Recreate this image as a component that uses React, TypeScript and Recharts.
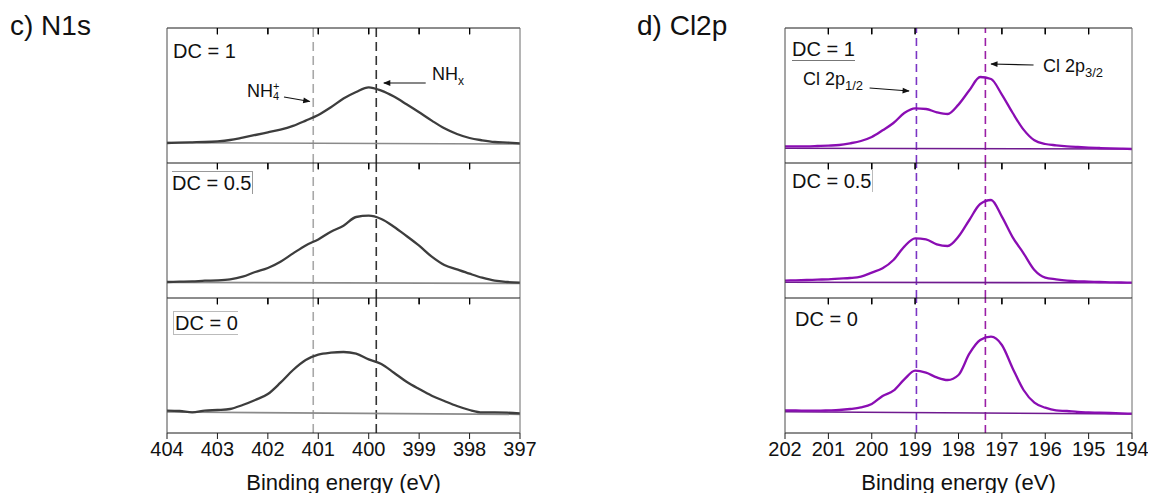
import React from "react";
import { LineChart, Line, XAxis, YAxis, ReferenceLine } from "recharts";

// N1s spectra (binding energy in eV, intensity in a.u.)
const n1sEnergy = [
  404, 403.75, 403.5, 403.25, 403, 402.75, 402.5, 402.25, 402, 401.75, 401.5, 401.25, 401, 400.75, 400.5,
  400.25, 400, 399.75, 399.5, 399.25, 399, 398.75, 398.5, 398.25, 398, 397.75, 397.5, 397.25, 397,
];
const n1sDc1 = [
  20.0, 20.4, 20.7, 21.0, 21.7, 23.0, 25.4, 28.0, 30.7, 33.4, 37.2, 42.4, 48.0, 55.7, 64.4, 71.0, 75.7, 72.4,
  66.4, 58.7, 50.7, 42.4, 34.7, 29.0, 25.0, 22.7, 21.0, 20.4, 19.7,
];
const n1sDc05 = [
  16.0, 16.3, 16.6, 17.3, 17.6, 18.6, 21.3, 26.0, 30.0, 36.3, 44.6, 52.6, 58.6, 66.3, 72.3, 81.0, 82.3, 79.0,
  71.3, 62.0, 52.3, 41.3, 33.0, 28.6, 24.3, 20.3, 17.3, 16.0, 15.3,
];
const n1sDc0 = [
  22.3, 22.0, 20.6, 22.3, 23.0, 24.0, 28.0, 33.0, 39.0, 50.3, 63.0, 73.0, 78.3, 80.3, 81.0, 79.3, 73.6, 69.0,
  60.3, 51.3, 44.0, 37.3, 32.0, 27.0, 23.0, 20.6, 20.6, 20.3, 19.6,
];
const n1sBgEnergy = [404, 397];
const n1sBg1 = [20.4, 19.0];
const n1sBg05 = [15.6, 14.6];
const n1sBg0 = [21.0, 18.6];
const n1sTicks = [404, 403, 402, 401, 400, 399, 398, 397];
const n1sPeaks = [401.1, 399.85];

// Cl2p spectra
const cl2pEnergy = [
  202, 201.75, 201.5, 201.25, 201, 200.75, 200.5, 200.25, 200, 199.75, 199.5, 199.25, 199, 198.75, 198.5,
  198.25, 198, 197.75, 197.5, 197.25, 197, 196.75, 196.5, 196.25, 196, 195.75, 195.5, 195.25, 195, 194.75,
  194.5, 194.25, 194,
];
const cl2pDc1 = [
  16.7, 16.7, 16.7, 17.0, 17.4, 18.0, 19.7, 22.0, 26.0, 32.7, 40.0, 50.0, 54.7, 54.0, 50.7, 49.0, 58.4, 72.7,
  86.0, 84.0, 68.4, 50.0, 33.4, 22.7, 19.0, 17.7, 16.7, 16.0, 15.4, 15.0, 14.7, 14.4, 14.0,
];
const cl2pDc05 = [
  17.4, 17.7, 18.0, 18.4, 18.7, 19.4, 20.0, 21.4, 25.4, 29.7, 38.0, 51.4, 59.7, 58.7, 53.7, 52.0, 61.4, 78.0,
  94.0, 98.0, 81.4, 60.7, 44.7, 28.0, 20.4, 18.7, 17.4, 16.7, 16.4, 16.0, 15.7, 15.5, 15.4,
];
const cl2pDc0 = [
  22.6, 22.6, 22.3, 22.3, 22.6, 23.0, 24.0, 25.6, 29.0, 37.0, 42.3, 53.6, 62.3, 60.3, 55.6, 53.0, 58.0, 79.3,
  93.0, 96.3, 88.0, 64.6, 43.0, 30.3, 25.3, 22.6, 22.0, 21.0, 20.6, 20.3, 20.0, 19.6, 19.3,
];
const cl2pBgEnergy = [202, 194];
const cl2pBg1 = [14.7, 14.0];
const cl2pBg05 = [15.7, 15.2];
const cl2pBg0 = [21.3, 19.0];
const cl2pTicks = [202, 201, 200, 199, 198, 197, 196, 195, 194];
const cl2pPeaks = [198.97, 197.38];

const dcLabels = ["DC = 1", "DC = 0.5", "DC = 0"];
const yDomain = [0, 135];

const FONT = "'Liberation Sans', Arial, Helvetica, sans-serif";
const PANEL_H = 135;
const PANEL_TOPS = [28, 163, 298];

type Seg = { x1: number; y1: number; x2: number; y2: number };

type PanelProps = {
  id: string;
  energy: number[];
  values: number[];
  bgEnergy: number[];
  bg: number[];
  ticks: number[];
  peaks: number[];
  peakColors: string[];
  dash: string;
  lineColor: string;
  bgColor: string;
  bottom: boolean;
  left: number;
  plotWidth: number;
  top: number;
  marginRight: number;
  arrows?: Seg[];
};

// top-edge tick drawn as a short stroke pointing into the panel
const TopTick = (props: any) => (
  <line x1={props.x} x2={props.x} y1={props.y} y2={props.y + 6} stroke="#000" strokeWidth={1.2} />
);

// one stacked spectrum panel; axes of size 1 are used as the frame
function Panel(p: PanelProps) {
  const rows = p.energy.map((e, i) => ({ e, s: p.values[i] }));
  const bgRows = p.bgEnergy.map((e, i) => ({ e, b: p.bg[i] }));
  const domain = [Math.min(...p.ticks), Math.max(...p.ticks)];
  const innerTicks = p.ticks.slice(1, -1);
  const mTop = 2;
  const mBottom = p.bottom ? 0 : 2;
  const axisH = p.bottom ? 60 : 1;
  const height = mTop + 1 + PANEL_H + axisH + mBottom;
  const width = 19 + 1 + p.plotWidth + 1 + p.marginRight;

  return (
    <div style={{ position: "absolute", left: p.left - 20, top: p.top - mTop - 1 }}>
      <LineChart
        width={width}
        height={height}
        data={rows}
        margin={{ top: mTop, right: p.marginRight, bottom: mBottom, left: 19 }}
      >
        <defs>
          <marker id={`arr-${p.id}`} viewBox="0 0 10 10" refX="9" refY="5" markerWidth="7" markerHeight="6" orient="auto">
            <path d="M0,1 L10,5 L0,9 z" fill="#111" />
          </marker>
        </defs>
        <XAxis
          xAxisId="b"
          dataKey="e"
          type="number"
          domain={domain}
          allowDataOverflow
          reversed
          ticks={p.ticks}
          interval={0}
          height={axisH}
          stroke="#1a1a1a"
          axisLine={p.bottom}
          tick={p.bottom ? { fill: "#111", fontSize: 20 } : false}
          tickLine={p.bottom}
          tickSize={6}
          tickMargin={3}
          label={
            p.bottom
              ? { value: "Binding energy (eV)", position: "insideBottom", offset: 3, fill: "#111", fontSize: 22 }
              : undefined
          }
        />
        <XAxis
          xAxisId="t"
          dataKey="e"
          type="number"
          orientation="top"
          domain={domain}
          allowDataOverflow
          reversed
          ticks={innerTicks}
          interval={0}
          height={1}
          stroke="#1a1a1a"
          tick={TopTick}
          tickLine={false}
          tickSize={0}
          tickMargin={0}
        />
        <YAxis yAxisId="l" domain={yDomain} allowDataOverflow tick={false} tickLine={false} width={1} stroke="#4a4a4a" />
        <YAxis
          yAxisId="r"
          orientation="right"
          domain={yDomain}
          allowDataOverflow
          tick={false}
          tickLine={false}
          width={1}
          stroke="#6a6a6a"
        />
        {innerTicks.map((t) => (
          <ReferenceLine
            key={`tk${t}`}
            xAxisId="b"
            yAxisId="l"
            ifOverflow="visible"
            segment={[
              { x: t, y: 135 },
              { x: t, y: 128.5 },
            ]}
            stroke="#000"
            strokeWidth={1.2}
          />
        ))}
        {p.peaks.map((x, i) => (
          <ReferenceLine
            key={x}
            x={x}
            xAxisId="b"
            yAxisId="l"
            stroke={p.peakColors[i]}
            strokeWidth={1.6}
            strokeDasharray={p.dash}
          />
        ))}
        <Line
          data={bgRows}
          xAxisId="b"
          yAxisId="l"
          dataKey="b"
          stroke={p.bgColor}
          strokeWidth={1.6}
          dot={false}
          isAnimationActive={false}
        />
        <Line
          xAxisId="b"
          yAxisId="l"
          dataKey="s"
          type="monotone"
          stroke={p.lineColor}
          strokeWidth={2.3}
          strokeLinejoin="round"
          dot={false}
          isAnimationActive={false}
        />
        {(p.arrows || []).map((a, i) => (
          <ReferenceLine
            key={i}
            xAxisId="b"
            yAxisId="l"
            segment={[
              { x: a.x1, y: a.y1 },
              { x: a.x2, y: a.y2 },
            ]}
            stroke="#111"
            strokeWidth={1.2}
            markerEnd={`url(#arr-${p.id})`}
          />
        ))}
      </LineChart>
    </div>
  );
}

const labelStyle = (left: number, top: number, extra: React.CSSProperties = {}): React.CSSProperties => ({
  position: "absolute",
  left,
  top,
  fontSize: 18,
  lineHeight: "20px",
  color: "#111",
  whiteSpace: "nowrap",
  ...extra,
});

const dcStyle = (left: number, top: number, extra: React.CSSProperties = {}) =>
  labelStyle(left, top, { fontSize: 20, lineHeight: "22px", ...extra });

export default function App() {
  const n1sSets = [
    { values: n1sDc1, bg: n1sBg1 },
    { values: n1sDc05, bg: n1sBg05 },
    { values: n1sDc0, bg: n1sBg0 },
  ];
  const cl2pSets = [
    { values: cl2pDc1, bg: cl2pBg1 },
    { values: cl2pDc05, bg: cl2pBg05 },
    { values: cl2pDc0, bg: cl2pBg0 },
  ];

  return (
    <div style={{ position: "absolute", left: 0, top: 0, width: 1149, height: 493, fontFamily: FONT, background: "#fff" }}>
      {n1sSets.map((s, i) => (
        <Panel
          key={`n${i}`}
          id={`n${i}`}
          energy={n1sEnergy}
          values={s.values}
          bgEnergy={n1sBgEnergy}
          bg={s.bg}
          ticks={n1sTicks}
          peaks={n1sPeaks}
          peakColors={["#a8a8a8", "#333333"]}
          dash="9 5"
          lineColor="#3d3d3d"
          bgColor="#8a8a8a"
          bottom={i === 2}
          left={167}
          plotWidth={353}
          top={PANEL_TOPS[i]}
          marginRight={18}
          arrows={i === 0 ? [
            { x1: 401.68, y1: 66, x2: 401.17, y2: 61.5 },
            { x1: 398.87, y1: 80, x2: 399.7, y2: 80 },
          ] : undefined}
        />
      ))}
      {cl2pSets.map((s, i) => (
        <Panel
          key={`c${i}`}
          id={`c${i}`}
          energy={cl2pEnergy}
          values={s.values}
          bgEnergy={cl2pBgEnergy}
          bg={s.bg}
          ticks={cl2pTicks}
          peaks={cl2pPeaks}
          peakColors={["#7b35c4", "#9a1fa6"]}
          dash="8 5"
          lineColor="#8a0db3"
          bgColor="#6f1a8f"
          bottom={i === 2}
          left={785}
          plotWidth={347}
          top={PANEL_TOPS[i]}
          marginRight={15}
          arrows={i === 0 ? [
            { x1: 200.05, y1: 75, x2: 199.14, y2: 72 },
            { x1: 196.27, y1: 98, x2: 197.25, y2: 99 },
          ] : undefined}
        />
      ))}

      <div style={{ position: "absolute", left: 10, top: 12, fontSize: 28, lineHeight: "28px", color: "#111" }}>c) N1s</div>
      <div style={{ position: "absolute", left: 637, top: 12, fontSize: 28, lineHeight: "28px", color: "#111" }}>d) Cl2p</div>

      <div style={dcStyle(173, 40)}>{dcLabels[0]}</div>
      <div style={dcStyle(172, 171, { borderTop: "1px solid #999", borderRight: "1px solid #999", paddingRight: 1 })}>
        {dcLabels[1]}
      </div>
      <div style={dcStyle(173, 311, { borderTop: "1px solid #bbb", borderLeft: "1px solid #bbb", borderBottom: "1px solid #bbb", paddingLeft: 1 })}>
        {dcLabels[2]}
      </div>

      <div style={dcStyle(792, 38, { borderBottom: "1px solid #777" })}>{dcLabels[0]}</div>
      <div style={dcStyle(792, 170, { borderRight: "1px solid #bbb", paddingRight: 1 })}>{dcLabels[1]}</div>
      <div style={dcStyle(795, 308)}>{dcLabels[2]}</div>

      <div style={labelStyle(247, 81)}>
        NH
        <span style={{ position: "relative", display: "inline-block", width: 9 }}>
          <span style={{ position: "absolute", left: 0, top: -16, fontSize: 11, lineHeight: "11px" }}>+</span>
          <span style={{ position: "absolute", left: 0, top: -6, fontSize: 11, lineHeight: "11px" }}>4</span>
        </span>
      </div>
      <div style={labelStyle(432, 64)}>
        NH<sub style={{ fontSize: 12 }}>x</sub>
      </div>
      <div style={labelStyle(803, 69)}>
        Cl 2p<sub style={{ fontSize: 13 }}>1/2</sub>
      </div>
      <div style={labelStyle(1043, 56)}>
        Cl 2p<sub style={{ fontSize: 13 }}>3/2</sub>
      </div>
    </div>
  );
}
